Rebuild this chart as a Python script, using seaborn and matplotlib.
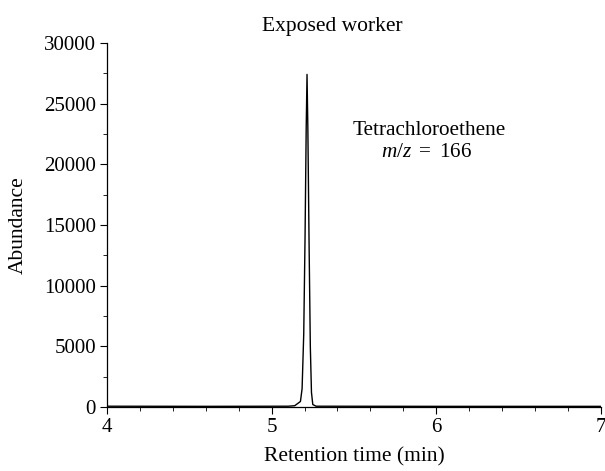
import numpy as np
import pandas as pd
import seaborn as sns
import matplotlib
matplotlib.use("Agg")
import matplotlib.pyplot as plt
from matplotlib.ticker import MultipleLocator

# Data
retention_time = [4.00, 4.60, 5.10, 5.14, 5.16, 5.175, 5.185, 5.195, 5.203, 5.210,
                  5.215, 5.220, 5.227, 5.235, 5.242, 5.250, 5.270, 6.00, 7.00]
abundance = [60, 50, 60, 100, 300, 450, 1500, 6000, 14000, 23000,
             27400, 23000, 14000, 5000, 1200, 200, 60, 50, 50]

x_ticks = [4, 5, 6, 7]
y_ticks = [0, 5000, 10000, 15000, 20000, 25000, 30000]

sns.set_theme(style="ticks", rc={"text.color": "black", "axes.labelcolor": "black",
                                 "xtick.color": "black", "ytick.color": "black",
                                 "axes.edgecolor": "black"})
plt.rcParams['font.family'] = ['Liberation Serif', 'DejaVu Serif']
plt.rcParams['mathtext.fontset'] = 'custom'
plt.rcParams['mathtext.it'] = 'Liberation Serif:italic'
plt.rcParams['mathtext.rm'] = 'Liberation Serif'

df = pd.DataFrame({"t": retention_time, "a": abundance})

fig = plt.figure(figsize=(6.05, 4.71), dpi=100)
ax = fig.add_axes([0.177, 0.136, 0.816, 0.773])
sns.lineplot(data=df, x="t", y="a", ax=ax, color="black", linewidth=1.0)

ax.set_xlim(4, 7)
ax.set_ylim(0, 30000)
ax.set_xticks(x_ticks)
ax.set_yticks(y_ticks)
ax.xaxis.set_minor_locator(MultipleLocator(0.2))
ax.yaxis.set_minor_locator(MultipleLocator(2500))
ax.tick_params(which="major", direction="out", length=5, width=0.8, labelsize=15, colors="black", pad=3)
ax.tick_params(which="minor", direction="out", length=3, width=0.6, colors="black")
for s in ["top", "right"]:
    ax.spines[s].set_visible(False)
for s in ["left", "bottom"]:
    ax.spines[s].set_color("black")
    ax.spines[s].set_linewidth(0.9)

ax.set_xlabel("")
ax.set_ylabel("")
fig.text(354 / 605, 1 - 457 / 471, "Retention time (min)", ha="center", va="center", fontsize=15.5, color="black")
fig.text(18 / 605, 1 - 225 / 471, "Abundance", ha="center", va="center", rotation=90, fontsize=15.5, color="black")
fig.text(332 / 605, 1 - 26 / 471, "Exposed worker", ha="center", va="center", fontsize=15.5, color="black")

ax.text(5.96, 22800, "Tetrachloroethene", ha="center", va="center", fontsize=15.3, color="black")
ax.text(5.94, 20950, r"$m/z$ $=$ 166", ha="center", va="center", fontsize=15.3, color="black")

fig.savefig("out.png", dpi=100)
